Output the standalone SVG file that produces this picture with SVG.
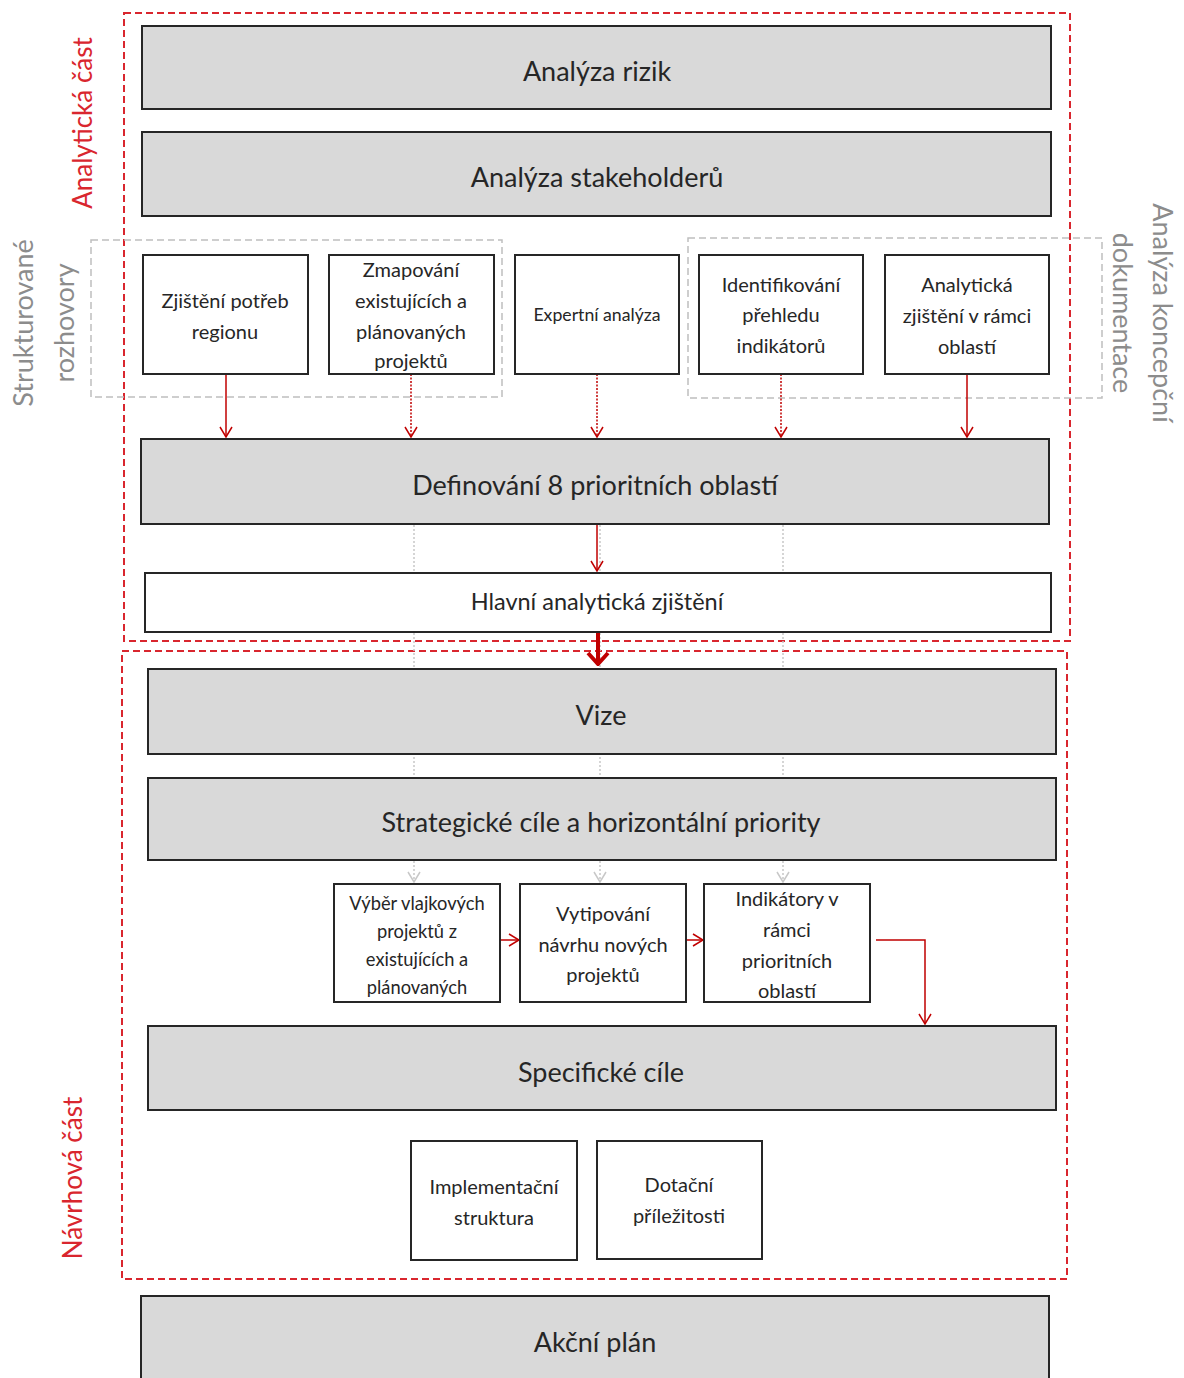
<svg xmlns="http://www.w3.org/2000/svg" width="1184" height="1378" viewBox="0 0 1184 1378">
<style>
.big{fill:#d9d9d9;stroke:#262626;stroke-width:2}
.wht{fill:#fff;stroke:#262626;stroke-width:2}
text{font-family:Lato,"Liberation Sans",sans-serif;fill:#262626;text-anchor:middle;dominant-baseline:central}
.t24{font-size:27px}
.t22{font-size:23.5px}
.t18{font-size:20px}
.t16{font-size:17.7px}
.t16b{font-size:18.3px}
.red{fill:none;stroke:#c00000;stroke-width:1.5}
.dot{stroke-dasharray:2 1.5}
.gdot{fill:none;stroke:#c8c8c8;stroke-width:1.5;stroke-dasharray:2 2}
.rdash{fill:none;stroke:#d9262e;stroke-width:2;stroke-dasharray:7 4}
.gdash{fill:none;stroke:#bfbfbf;stroke-width:1.5;stroke-dasharray:7 4}
.lblr{fill:#d9262e;font-size:26px}
.lblg{fill:#8c8c8c;font-size:27px}
</style>
<defs>
<marker id="arh" viewBox="0 0 14 14" refX="13" refY="7" markerWidth="14" markerHeight="14" markerUnits="userSpaceOnUse" orient="auto">
<path d="M3,1 L13,7 L3,13" fill="none" stroke="#c00000" stroke-width="1.5"/>
</marker>
<marker id="ag" viewBox="0 0 14 14" refX="13" refY="7" markerWidth="14" markerHeight="14" markerUnits="userSpaceOnUse" orient="auto">
<path d="M3,1 L13,7 L3,13" fill="none" stroke="#c8c8c8" stroke-width="1.5"/>
</marker>
<marker id="athick" viewBox="0 0 18 24" refX="17" refY="12" markerWidth="18" markerHeight="24" markerUnits="userSpaceOnUse" orient="auto">
<path d="M5,2 L16,12 L5,22" fill="none" stroke="#c00000" stroke-width="4"/>
</marker>
</defs>

<g id="section-frames">
<rect class="rdash" x="124" y="13" width="946" height="628"/>
<rect class="rdash" x="122" y="651" width="945" height="628"/>
<rect class="gdash" x="91" y="240" width="411" height="157"/>
<rect class="gdash" x="688" y="238" width="414" height="160"/>
</g>

<g id="side-labels">
<text class="lblr" transform="translate(82,123) rotate(-90)">Analytická část</text>
<text class="lblg" transform="translate(22,323) rotate(-90)">Strukturované</text>
<text class="lblg" transform="translate(63,323) rotate(-90)">rozhovory</text>
<text class="lblr" transform="translate(72,1178) rotate(-90)">Návrhová část</text>
<text class="lblg" transform="translate(1163,313) rotate(90)">Analýza koncepční</text>
<text class="lblg" transform="translate(1123,313) rotate(90)">dokumentace</text>
</g>

<g id="connectors">
<line class="gdot" x1="414" y1="525" x2="414" y2="882" marker-end="url(#ag)"/>
<line class="gdot" x1="600" y1="525" x2="600" y2="882" marker-end="url(#ag)"/>
<line class="gdot" x1="783" y1="525" x2="783" y2="882" marker-end="url(#ag)"/>
<line class="red" x1="226" y1="374" x2="226" y2="437" marker-end="url(#arh)"/>
<line class="red dot" x1="411" y1="374" x2="411" y2="437" marker-end="url(#arh)"/>
<line class="red dot" x1="597" y1="374" x2="597" y2="437" marker-end="url(#arh)"/>
<line class="red dot" x1="781" y1="374" x2="781" y2="437" marker-end="url(#arh)"/>
<line class="red" x1="967" y1="374" x2="967" y2="437" marker-end="url(#arh)"/>
<line class="red" x1="597" y1="524" x2="597" y2="571" marker-end="url(#arh)"/>
<line x1="598" y1="632" x2="598" y2="665" stroke="#c00000" stroke-width="4" marker-end="url(#athick)"/>
<line class="red" x1="500" y1="940" x2="519" y2="940" marker-end="url(#arh)"/>
<line class="red" x1="686" y1="940" x2="703" y2="940" marker-end="url(#arh)"/>
<polyline class="red" points="876,940 925,940 925,1024" marker-end="url(#arh)"/>
</g>

<g id="n-rizik"><rect class="big" x="142" y="26" width="909" height="83"/><text class="t24" x="597" y="70">Analýza rizik</text></g>
<g id="n-stakeholderu"><rect class="big" x="142" y="132" width="909" height="84"/><text class="t24" x="597" y="176">Analýza stakeholderů</text></g>

<g id="n-zjisteni"><rect class="wht" x="143" y="255" width="165" height="119"/><text class="t18" x="225" y="300">Zjištění potřeb</text><text class="t18" x="225" y="331">regionu</text></g>
<g id="n-zmapovani"><rect class="wht" x="329" y="255" width="165" height="119"/><text class="t18" x="411" y="269">Zmapování</text><text class="t18" x="411" y="300">existujících a</text><text class="t18" x="411" y="331">plánovaných</text><text class="t18" x="411" y="360">projektů</text></g>
<g id="n-expertni"><rect class="wht" x="515" y="255" width="164" height="119"/><text class="t16" x="597" y="314">Expertní analýza</text></g>
<g id="n-identifikovani"><rect class="wht" x="699" y="255" width="164" height="119"/><text class="t18" x="781" y="284">Identifikování</text><text class="t18" x="781" y="314">přehledu</text><text class="t18" x="781" y="345">indikátorů</text></g>
<g id="n-analyticka"><rect class="wht" x="885" y="255" width="164" height="119"/><text class="t18" x="967" y="284">Analytická</text><text class="t18" x="967" y="315">zjištění v rámci</text><text class="t18" x="967" y="346">oblastí</text></g>

<g id="n-definovani"><rect class="big" x="141" y="439" width="908" height="85"/><text class="t24" x="595" y="484">Definování 8 prioritních oblastí</text></g>
<g id="n-hlavni"><rect class="wht" x="145" y="573" width="906" height="59"/><text class="t22" x="597" y="601">Hlavní analytická zjištění</text></g>

<g id="n-vize"><rect class="big" x="148" y="669" width="908" height="85"/><text class="t24" x="601" y="714">Vize</text></g>
<g id="n-strategicke"><rect class="big" x="148" y="778" width="908" height="82"/><text class="t24" x="601" y="821">Strategické cíle a horizontální priority</text></g>

<g id="n-vyber"><rect class="wht" x="334" y="884" width="166" height="118"/><text class="t16b" x="417" y="903">Výběr vlajkových</text><text class="t16b" x="417" y="931">projektů z</text><text class="t16b" x="417" y="959">existujících a</text><text class="t16b" x="417" y="987">plánovaných</text></g>
<g id="n-vytipovani"><rect class="wht" x="520" y="884" width="166" height="118"/><text class="t18" x="603" y="913">Vytipování</text><text class="t18" x="603" y="944">návrhu nových</text><text class="t18" x="603" y="974">projektů</text></g>
<g id="n-indikatory"><rect class="wht" x="704" y="884" width="166" height="118"/><text class="t18" x="787" y="898">Indikátory v</text><text class="t18" x="787" y="929">rámci</text><text class="t18" x="787" y="960">prioritních</text><text class="t18" x="787" y="990">oblastí</text></g>

<g id="n-specificke"><rect class="big" x="148" y="1026" width="908" height="84"/><text class="t24" x="601" y="1071">Specifické cíle</text></g>
<g id="n-implementacni"><rect class="wht" x="411" y="1141" width="166" height="119"/><text class="t18" x="494" y="1186">Implementační</text><text class="t18" x="494" y="1217">struktura</text></g>
<g id="n-dotacni"><rect class="wht" x="597" y="1141" width="165" height="118"/><text class="t18" x="679" y="1184">Dotační</text><text class="t18" x="679" y="1215">příležitosti</text></g>

<g id="n-akcni"><rect class="big" x="141" y="1296" width="908" height="100"/><text class="t24" x="595" y="1341">Akční plán</text></g>
</svg>
